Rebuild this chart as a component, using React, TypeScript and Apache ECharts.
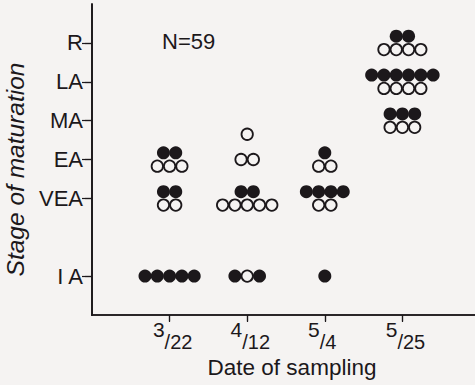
import React, { useEffect, useRef } from "react";
import * as echarts from "echarts";

// Sampling dates (x categories, positions 1..4 on the axis)
const dates = ["3/22", "4/12", "5/4", "5/25"];
const datePositions = [1, 2, 3, 4];

// Stage of maturation (y values and their labels)
const stageValues = [1, 3, 4, 5, 6, 7];
const stageNames = ["I A", "VEA", "EA", "MA", "LA", "R"];

// Individuals per date: [stage, top row, bottom row]; F = filled, O = open
const rows322: [number, ...string[]][] = [[4, "FF", "OOO"], [3, "FF", "OO"], [1, "FFFFF"]];
const rows412: [number, ...string[]][] = [[4.65, "O"], [4, "OO"], [3, "FF", "OOOOO"], [1, "FOF"]];
const rows504: [number, ...string[]][] = [[4, "F", "OO"], [3, "FFFF", "OO"], [1, "F"]];
const rows525: [number, ...string[]][] = [[7, "FF", "OOOO"], [6, "FFFFFF", "OOOO"], [5, "FFF", "OOO"]];

const sampleN = 59;

const allRows = [rows322, rows412, rows504, rows525];

function buildPoints() {
  const filled: number[][] = [];
  const open: number[][] = [];
  const dx = 0.1585; // horizontal spacing in x units
  const dy = 0.172; // half row spacing in y units
  allRows.forEach((groups, di) => {
    const x0 = datePositions[di];
    groups.forEach(([stage, ...rows]) => {
      const nr = rows.length;
      rows.forEach((row, ri) => {
        const yOff = nr === 1 ? 0 : ri === 0 ? dy : -dy;
        const n = row.length;
        for (let i = 0; i < n; i++) {
          const x = x0 + (i - (n - 1) / 2) * dx;
          const pt = [x, stage + yOff];
          if (row[i] === "F") filled.push(pt);
          else open.push(pt);
        }
      });
    });
  });
  return { filled, open };
}

const BG = "#f5f3f2";
const INK = "#1c181b";
const FONT = "Liberation Sans";

export default function App() {
  const ref = useRef<HTMLDivElement>(null);
  useEffect(() => {
    if (!ref.current) return;
    const chart = echarts.init(ref.current, null, { renderer: "svg" });
    const { filled, open } = buildPoints();
    const lineStyle = { color: INK, width: 1.7 };
    chart.setOption({
      animation: false,
      backgroundColor: BG,
      title: {
        text: `N=${sampleN}`,
        left: 162,
        top: 30,
        padding: 0,
        textStyle: { fontFamily: FONT, fontSize: 22, fontWeight: "normal", color: INK },
      },
      grid: { left: 92, top: 4, width: 388, height: 311, containLabel: false, outerBoundsMode: "none" },
      xAxis: [
        {
          type: "value",
          position: "bottom",
          min: 0,
          max: 5,
          interval: 1,
          splitLine: { show: false },
          axisLine: { show: true, lineStyle },
          axisTick: { show: true, inside: false, length: 6, customValues: datePositions, lineStyle: { color: INK, width: 1.2 } },
          axisLabel: {
            show: true,
            customValues: datePositions,
            margin: 8,
            color: INK,
            fontFamily: FONT,
            formatter: (v: number) => {
              const lab = dates[datePositions.indexOf(v)] || "";
              const [n, d] = lab.split("/");
              return `{n|${n}}{s| }\n{g| }{d|/${d}}`;
            },
            rich: {
              n: { fontSize: 21, width: 15, align: "right", lineHeight: 13, fontFamily: FONT, color: INK },
              s: { fontSize: 10, width: 25, align: "right", lineHeight: 13 },
              g: { fontSize: 10, width: 15, align: "left", lineHeight: 11 },
              d: { fontSize: 20, width: 25, align: "left", lineHeight: 11, fontFamily: FONT, color: INK },
            },
          },
          name: "Date of sampling",
          nameLocation: "middle",
          nameGap: 41,
          nameTextStyle: { fontFamily: FONT, fontSize: 22.5, color: INK, padding: [0, 0, 0, 12] },
        },
        {
          type: "value",
          position: "top",
          min: 0,
          max: 5,
          interval: 1,
          splitLine: { show: false },
          axisLine: { show: true, lineStyle },
          axisTick: { show: true, inside: true, length: 7, customValues: datePositions, lineStyle: { color: INK, width: 1.2 } },
          axisLabel: { show: false },
        },
      ],
      yAxis: [
        {
          type: "value",
          position: "left",
          min: 0,
          max: 8,
          interval: 1,
          splitLine: { show: false },
          axisLine: { show: true, lineStyle },
          axisTick: { show: true, inside: false, length: 7, customValues: stageValues, lineStyle: { color: INK, width: 1.2 } },
          axisLabel: {
            show: true,
            customValues: stageValues,
            margin: 9,
            fontFamily: FONT,
            fontSize: 22,
            color: INK,
            formatter: (v: number) => stageNames[stageValues.indexOf(v)] || "",
          },
          name: "Stage of maturation",
          nameLocation: "middle",
          nameRotate: 90,
          nameGap: 62,
          nameTextStyle: { fontFamily: FONT, fontSize: 24.5, fontStyle: "italic", color: INK, padding: [0, 20, 0, 0] },
        },
        {
          type: "value",
          position: "right",
          min: 0,
          max: 8,
          interval: 1,
          splitLine: { show: false },
          axisLine: { show: true, lineStyle },
          axisTick: { show: true, inside: true, length: 10, customValues: stageValues, lineStyle: { color: INK, width: 1.2 } },
          axisLabel: { show: false },
        },
      ],
      series: [
        {
          type: "scatter",
          name: "filled",
          xAxisIndex: 0,
          yAxisIndex: 0,
          data: filled,
          symbol: "circle",
          symbolSize: 13,
          itemStyle: { color: INK, opacity: 1 },
          z: 3,
        },
        {
          type: "scatter",
          name: "open",
          xAxisIndex: 0,
          yAxisIndex: 0,
          data: open,
          symbol: "circle",
          symbolSize: 11.4,
          itemStyle: { color: BG, borderColor: INK, borderWidth: 1.8, opacity: 1 },
          z: 4,
        },
      ],
    });
    return () => chart.dispose();
  }, []);
  return (
    <div style={{ position: "absolute", left: 0, top: 0, width: 475, height: 385, background: BG }}>
      <div ref={ref} style={{ width: 475, height: 385 }} />
    </div>
  );
}
